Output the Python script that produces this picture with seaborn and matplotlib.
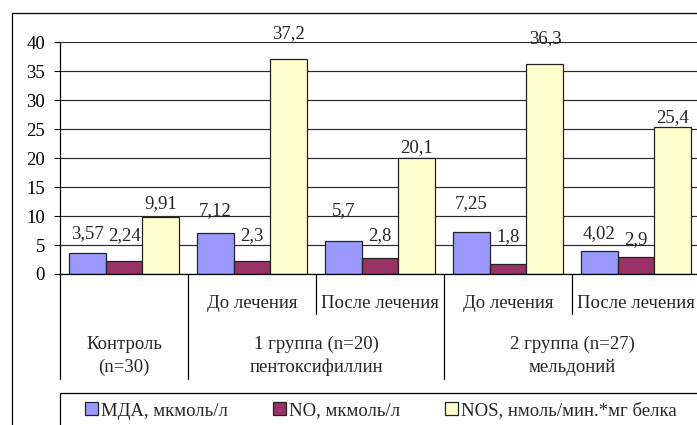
import numpy as np
import pandas as pd
import matplotlib
matplotlib.use("Agg")
import matplotlib.pyplot as plt
import matplotlib.transforms as mtransforms
from matplotlib.patches import Patch, Rectangle
from matplotlib.lines import Line2D
import seaborn as sns

# ---------------- data ----------------
categories = ["Контроль", "1 группа: до", "1 группа: после", "2 группа: до", "2 группа: после"]
stage_labels = ["", "До лечения", "После лечения", "До лечения", "После лечения"]
group_labels = ["Контроль\n(n=30)", "1 группа (n=20)\nпентоксифиллин", "2 группа (n=27)\nмельдоний"]
category_group = [0, 1, 1, 2, 2]
series = ["МДА, мкмоль/л", "NO, мкмоль/л", "NOS, нмоль/мин.*мг белка"]
mda = [3.57, 7.12, 5.7, 7.25, 4.02]
no = [2.24, 2.3, 2.8, 1.8, 2.9]
nos = [9.91, 37.2, 20.1, 36.3, 25.4]
yticks = [0, 5, 10, 15, 20, 25, 30, 35, 40]

# ---------------- style ----------------
colors = ["#9999FF", "#993366", "#FFFFCC"]
label_lift_px = [[21, 24, 32, 30, 19],
                 [27, 27, 24, 28, 19],
                 [15, 26, 11, 27, 11]]
FS = 13.5

sns.set_style("white")
plt.rcParams["font.family"] = ["Liberation Serif", "DejaVu Serif"]

df = pd.DataFrame({
    "cat": categories * 3,
    "series": np.repeat(series, len(categories)),
    "value": mda + no + nos,
})

W, H = 697, 425
def fx(px):
    return px / W
def fy(py):
    return 1 - py / H

fig = plt.figure(figsize=(W / 100, H / 100), dpi=100)
fig.patch.set_facecolor("white")
ax = fig.add_axes([fx(60), fy(274), fx(700) - fx(60), fy(42.3) - fy(274)])

sns.barplot(data=df, x="cat", y="value", hue="series", order=categories,
            hue_order=series, palette=colors, width=0.865, gap=0,
            edgecolor="#222222", linewidth=0.9, saturation=1,
            errorbar=None, legend=False, ax=ax)

ax.set_xlim(-0.5, len(categories) - 0.5)
ax.set_ylim(0, 40)
ax.set_yticks(yticks)
ax.set_yticklabels([str(t) for t in yticks])
ax.grid(axis="y", color="#2a2a2a", lw=0.85)
ax.grid(axis="x", visible=False)
ax.set_axisbelow(True)
for s in ["top", "right"]:
    ax.spines[s].set_visible(False)
for s in ["left", "bottom"]:
    ax.spines[s].set_color("black")
    ax.spines[s].set_linewidth(0.9)
ax.tick_params(axis="y", length=4.3, width=0.8, pad=6.5, labelsize=FS,
               direction="out", color="black", labelcolor="black", left=True)
ax.tick_params(axis="x", length=0, labelbottom=False)
ax.set_xlabel("")
ax.set_ylabel("")

# value labels
def fmt(v):
    return f"{v:g}".replace(".", ",")

for cont, lifts in zip(ax.containers, label_lift_px):
    for bar, lift in zip(cont, lifts):
        v = bar.get_height()
        ax.annotate(fmt(v), (bar.get_x() + bar.get_width() / 2, v),
                    xytext=(0, (lift - 6) * 0.72), textcoords="offset points",
                    ha="center", va="baseline", fontsize=FS, annotation_clip=False)

# hierarchical category axis
trans = mtransforms.blended_transform_factory(ax.transData, fig.transFigure)
for i, s in enumerate(stage_labels):
    if s:
        ax.text(i, fy(303), s, transform=trans, ha="center", va="center", fontsize=FS)
for g, lab in enumerate(group_labels):
    idx = [i for i, cg in enumerate(category_group) if cg == g]
    ax.text(np.mean(idx), fy(356), lab, transform=trans, ha="center", va="center",
            fontsize=FS, linespacing=1.45, multialignment="center")

n = len(categories)
bounds = [(-0.5, True)]
for i in range(n - 1):
    bounds.append((i + 0.5, category_group[i] != category_group[i + 1]))
bounds.append((n - 0.5, True))
for b, long in bounds:
    ax.add_line(Line2D([b, b], [fy(274), fy(379 if long else 314)], transform=trans,
                       color="black", lw=0.9, clip_on=False))

# legend
handles = [Patch(facecolor=c, edgecolor="#222222", lw=0.9, label=s) for c, s in zip(colors, series)]
fig.legend(handles=handles, loc="center left", bbox_to_anchor=(fx(85), fy(411)),
           ncol=3, frameon=False, borderpad=0, borderaxespad=0,
           handlelength=0.68, handleheight=0.68, handletextpad=0.17,
           columnspacing=2.4, fontsize=FS)

# frames
fig.add_artist(Rectangle((fx(60), -0.2), 1.2, fy(393) + 0.2, transform=fig.transFigure,
                         fill=False, ec="black", lw=0.9))
fig.add_artist(Rectangle((fx(12), -0.2), 1.2, fy(13) + 0.2, transform=fig.transFigure,
                         fill=False, ec="black", lw=0.9))

fig.savefig("out.png", dpi=100)
